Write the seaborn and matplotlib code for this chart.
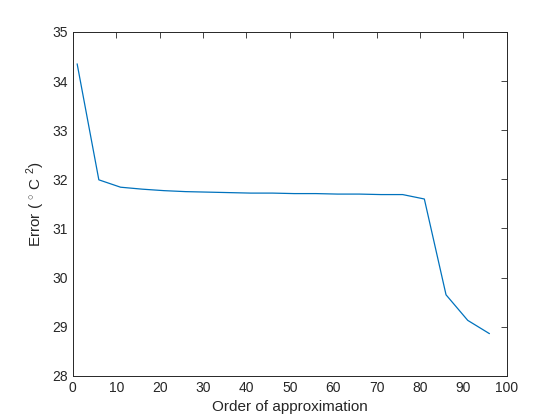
import matplotlib
matplotlib.use("Agg")
import matplotlib.pyplot as plt
import seaborn as sns
import pandas as pd

# approximation order vs error
order = [1, 6, 11, 16, 21, 26, 31, 36, 41, 46, 51, 56, 61, 66, 71, 76, 81, 86, 91, 96]
error = [34.35, 31.99, 31.84, 31.80, 31.77, 31.75, 31.74, 31.73, 31.72, 31.72,
         31.71, 31.71, 31.70, 31.70, 31.69, 31.69, 31.60, 29.65, 29.13, 28.86]

df = pd.DataFrame({"order": order, "error": error})

sns.set_style("white")
plt.rcParams["font.family"] = ["Liberation Sans", "DejaVu Sans"]
plt.rcParams["mathtext.fontset"] = "custom"
plt.rcParams["mathtext.rm"] = "Liberation Sans"

fig = plt.figure(figsize=(5.6, 4.2), dpi=100)
ax = fig.add_axes([0.13, 0.105, 0.775, 0.819])
sns.lineplot(data=df, x="order", y="error", color="#0072BD", linewidth=0.9, ax=ax)

ax.set_xlim(0, 100)
ax.set_ylim(28, 35)
ax.set_xticks(range(0, 101, 10))
ax.set_yticks(range(28, 36))
ax.tick_params(direction="in", length=4, width=0.6, top=True, right=True,
               labelsize=10, labelcolor="#262626", color="#262626")
for s in ax.spines.values():
    s.set_linewidth(0.7)
    s.set_color("#262626")
    s.set_visible(True)
ax.set_xlabel("Order of approximation", fontsize=11, color="#262626")
ax.set_ylabel(r"Error ( $^{\circ}$ C $^{2}$)", fontsize=11, color="#262626")

fig.savefig("out.png", dpi=100)
